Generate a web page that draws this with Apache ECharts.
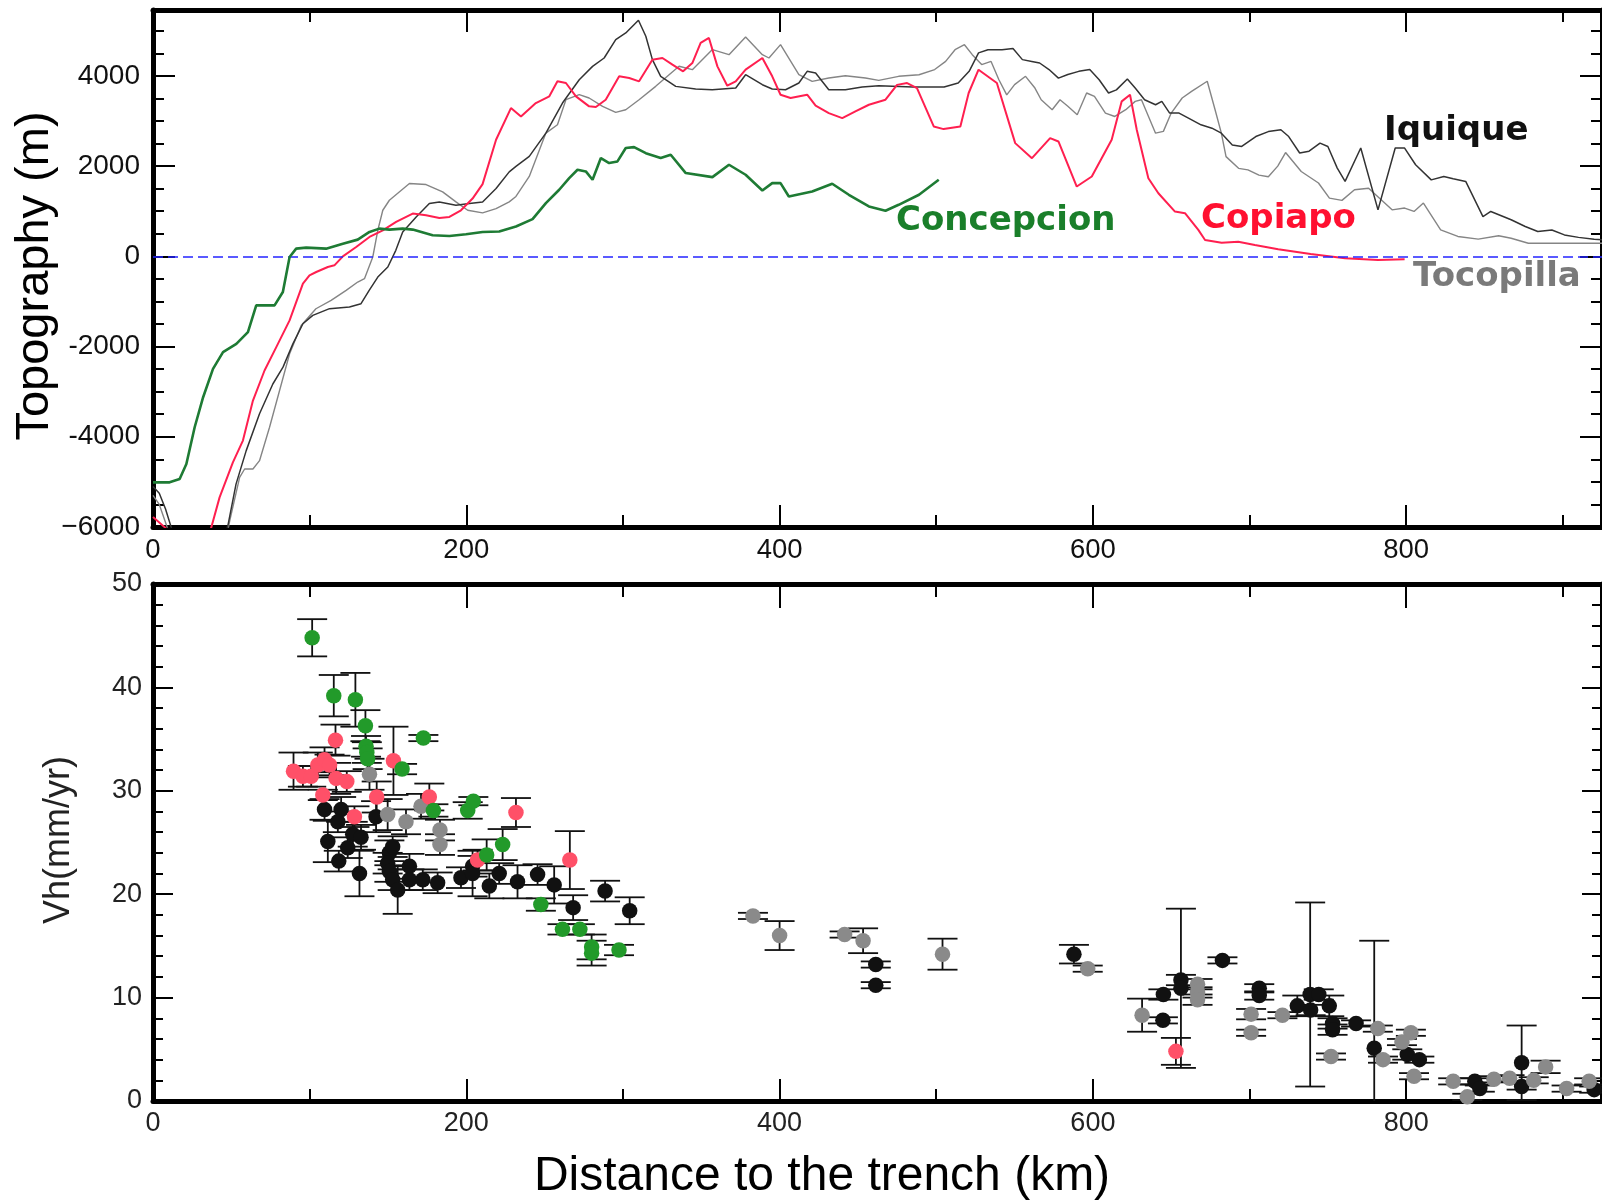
<!DOCTYPE html>
<html><head><meta charset="utf-8">
<script src="https://cdn.jsdelivr.net/npm/echarts@6/dist/echarts.min.js"></script>
<style>html,body{margin:0;padding:0;background:#fff}#c{width:1602px;height:1201px}</style>
</head><body><div id="c"></div>
<script>
// ---------------- DATA ----------------
// Topography profiles: [distance to trench (km), elevation (m)]
const concepcionTopo = [[0,-5010],[10.6,-5010],[17,-4936],[21.3,-4603],[26.6,-3789],[32,-3123],[38.3,-2494],[44.7,-2124],[53.2,-1939],[60.6,-1680],[65.9,-1088],[77.6,-1088],[82.9,-792],[87.2,-15],[91.4,170],[97.8,192],[110.5,170],[121.2,281],[130.7,370],[138.2,540],[144.5,614],[150.9,592],[159.4,614],[165.8,592],[178.5,466],[189.2,451],[199.8,488],[210.4,540],[221,551],[231.7,662],[242.3,825],[250.8,1180],[259.3,1475],[265.7,1734],[271,1919],[276.3,1882],[280.6,1697],[285.9,2178],[291.2,2067],[296.5,2104],[301.8,2400],[307.1,2420],[314.6,2287],[324.1,2178],[330.5,2252],[340.1,1845],[357.1,1756],[367.7,2030],[378.3,1808],[389,1460],[395.3,1623],[400.6,1623],[405.9,1327],[420.8,1438],[433.6,1608],[444.2,1364],[457,1105],[467.6,1009],[476,1142],[489,1365],[501.6,1697]];
const copiapoTopo = [[0,-5780],[8,-6020],[22,-7000],[37.2,-6009],[42.5,-5343],[51,-4566],[57.4,-4085],[63.8,-3197],[71.2,-2531],[78.7,-2013],[87.2,-1421],[95.7,-607],[99.9,-422],[104.2,-348],[111.6,-237],[115.8,-200],[121.2,0],[129.7,207],[138.2,429],[146.7,577],[155.2,762],[165.8,947],[174.3,910],[182.8,851],[189.2,873],[196.6,1021],[204,1280],[210.4,1600],[219,2583],[228.5,3286],[234.9,3101],[244.4,3398],[253,3546],[258.2,3879],[263.6,3842],[270,3546],[278.4,3324],[282.7,3309],[289,3472],[297.6,3990],[304,3953],[310.3,3879],[318.8,4359],[325.2,4396],[331.6,4248],[338.4,4100],[344.3,4285],[349.6,4729],[354.9,4840],[360.3,4211],[366.6,3782],[372,3879],[378.3,4137],[389,4396],[395.3,3990],[400.6,3582],[407,3508],[417.6,3582],[423,3338],[431.4,3175],[440,3064],[448.4,3212],[457,3360],[467.6,3472],[475,3800],[481.4,3841],[487.7,3730],[498.4,2879],[504.7,2820],[515.4,2879],[520.7,3620],[527,4137],[538.7,3841],[550.4,2509],[561.1,2176],[572.7,2620],[578,2546],[589.7,1547],[599.3,1769],[612,2583],[618.4,3435],[623.7,3582],[628,2805],[635.4,1732],[641.8,1399],[652.4,992],[658.8,955],[667.3,585],[671.6,362],[682.2,303],[692.8,325],[703.4,252],[718.3,159],[739,53],[761,-43],[782,-80],[799,-65]];
const iquiqueTopo = [[0,-5100],[4,-5250],[8,-5600],[12,-6050],[28,-7200],[46,-6200],[48,-5935],[53,-5050],[59.5,-4307],[68,-3490],[76.5,-2830],[83,-2457],[89.3,-1940],[95.7,-1495],[102,-1310],[112.7,-1160],[125.4,-1125],[132.8,-1050],[138,-755],[143.5,-460],[149.9,-237],[155,133],[159.4,540],[168,873],[176.4,1170],[182.8,1206],[193.4,1132],[202,1170],[210.4,1206],[219,1502],[227.4,1872],[231.7,1992],[240.2,2214],[250.8,2732],[261.4,3398],[272.1,3915],[280.6,4211],[288,4396],[295.4,4803],[301.8,4951],[309.9,5232],[314.6,4877],[318.8,4359],[324.1,3989],[333.7,3767],[346.4,3708],[357,3693],[372,3730],[378.3,4026],[389,3804],[395.3,3708],[403.8,3693],[412.3,3841],[417.6,4100],[423,4063],[431.4,3693],[442,3693],[452.7,3752],[463.3,3780],[485,3755],[505,3755],[514,3840],[521,4100],[527,4510],[533,4580],[542,4580],[549,4605],[555,4360],[561,4320],[566,4285],[572,4140],[578,3950],[584,4030],[591,4100],[598,4140],[604,3915],[610,3620],[615,3690],[622,3930],[627,3730],[633,3470],[640,3360],[644,3435],[649,3175],[655,3175],[661,3065],[669,2915],[676,2840],[682,2730],[689,2470],[695,2435],[704,2655],[712,2765],[720,2805],[725,2655],[732,2290],[738,2330],[745,2510],[750,2435],[756,1955],[761,1660],[771,2400],[782,1030],[793,2400],[799,2400],[806,2030],[816,1695],[824,1770],[830,1720],[838,1660],[849,880],[854,995],[867,810],[876,660],[884,550],[893,585],[901,475],[910,420],[920,380],[925,370]];
const tocopillaTopo = [[0,-5300],[4,-5500],[8,-5900],[11,-6200],[28,-7200],[47,-6200],[49,-5860],[55.3,-4900],[58.5,-4714],[63.8,-4714],[68,-4530],[74.4,-3790],[80.8,-2975],[87.2,-2160],[94.6,-1532],[104,-1162],[113.7,-977],[123.3,-755],[130.7,-570],[135,-496],[140.3,-15],[143.5,577],[146.7,1021],[150.9,1243],[163.7,1613],[174.3,1591],[184.9,1428],[193.4,1206],[200.9,1021],[210.4,962],[219,1058],[227.4,1206],[231.7,1327],[240.2,1771],[250.8,2732],[258.2,2917],[263.6,3472],[272.1,3583],[278.4,3509],[287,3324],[295.4,3191],[301.8,3250],[310.3,3472],[320.9,3768],[335.8,4212],[344.3,4138],[357.1,4582],[367.7,4470],[378.3,4863],[389,4470],[393.2,4396],[400.6,4692],[412.3,4026],[420.8,3878],[431.4,3952],[442,4004],[454.8,3952],[463.3,3900],[476,3990],[489,4025],[499,4140],[506,4320],[512,4580],[518,4690],[523,4470],[529,4250],[535,4320],[540,3915],[545,3580],[550,3805],[557,3990],[563,3730],[567,3470],[574,3250],[579,3470],[584,3325],[590,3140],[596,3620],[601,3545],[608,3175],[614,3100],[621,3250],[627,3435],[631,3470],[640,2730],[645,2770],[650,3175],[657,3510],[663,3655],[673,3880],[678,3250],[682,2730],[685,2210],[693,1950],[699,1915],[706,1800],[712,1765],[718,2000],[723,2300],[733,1880],[744,1625],[751,1290],[759,1240],[767,1475],[776,1510],[791,1030],[799,1070],[805,995],[811,1180],[822,585],[833,440],[846,380],[859,455],[867,400],[878,290],[888,290],[925,290]];

// Horizontal velocities: [distance (km), Vh (mm/yr), error (mm/yr)]
const concepcionVh = [[101.6,44.8,1.8],[115.4,39.2,2.0],[129.2,38.8,2.6],[135.6,36.3,1.5],[136,34.3,1.0],[136.5,33.7,1.0],[137,33.1,1.0],[172.6,35.1,0.3],[159,32.1,0.5],[179,28.1,0.6],[200.9,28.1,0.8],[204.5,29.0,0.4],[223.2,24.8,1.5],[213,23.8,1.5],[247.6,19.0,0.6],[261.4,16.6,0.5],[272.5,16.6,0.5],[280,14.9,1.2],[280,14.3,1.2],[297.5,14.6,0.5]];
const copiapoVh = [[89.7,31.9,1.8],[95.7,31.4,1.0],[101,31.4,1.0],[105.2,32.5,1.2],[109.5,33.0,1.2],[112.7,32.5,1.0],[116.5,34.9,1.5],[116.9,31.2,1.5],[123.7,30.9,1.0],[108.4,29.6,0.5],[128.6,27.5,1.0],[142.8,29.4,1.5],[153.5,32.9,3.3],[176.4,29.4,1.3],[207.2,23.3,1.0],[231.7,27.9,1.4],[266.1,23.3,2.8],[653,4.8,1.3]];
const tocopillaVh = [[138.2,31.6,1.5],[149.8,27.7,1.5],[161.5,27.0,1.2],[171.1,28.5,1.2],[183.2,26.2,1.0],[183.2,24.8,1.0],[383,17.9,0.3],[400,16.0,1.4],[441.5,16.1,0.3],[453.3,15.5,1.2],[504,14.2,1.5],[596.7,12.8,0.3],[631.4,8.3,1.6],[666.8,11.3,0.5],[666.8,10.5,0.5],[666.8,9.8,0.5],[701,8.4,0.5],[701,6.6,0.3],[721,8.3,0.3],[752,4.3,0.3],[781.9,7.0,0.3],[785.2,4.0,0.3],[803,6.6,0.3],[797.3,5.7,0.3],[805,2.4,0.3],[830,1.9,0.3],[839,0.4,0.3],[856,2.1,0.3],[866,2.2,0.3],[881.4,2.0,0.3],[889,3.3,0.6],[902.4,1.2,0.3],[916.8,1.9,0.3]];
const iquiqueVh = [[109.5,28.2,1.0],[120.1,28.2,1.2],[118,27.0,1.0],[111.6,25.1,2.0],[118.6,23.2,1.0],[124.3,24.5,1.0],[127.5,25.8,1.2],[132.8,25.5,1.2],[131.8,22.0,2.2],[142.4,27.5,1.5],[150.9,24.0,1.2],[153,24.6,1.0],[149.8,23.0,1.0],[150.9,22.2,1.0],[153,21.4,1.0],[156.2,20.4,2.3],[163.7,22.7,1.2],[163.7,21.4,1.0],[172.2,21.4,1.0],[181.7,21.1,1.0],[196.6,21.6,1.0],[204,22.7,1.0],[204,22.0,2.2],[214.7,20.8,1.2],[221,22.0,1.0],[232.7,21.2,1.6],[245.5,21.9,1.0],[256.1,20.9,1.8],[268.2,18.7,1.2],[288.6,20.3,1.0],[304.3,18.4,1.3],[461.4,13.2,0.3],[461.4,11.2,0.3],[587.9,14.2,0.9],[656.2,11.7,0.5],[656.2,10.9,7.7],[645,10.3,0.5],[644.7,7.8,0.3],[682.7,13.6,0.3],[706.2,10.9,0.4],[706.2,10.2,0.4],[730.5,9.2,1.0],[738.7,10.3,8.9],[744.2,10.3,0.5],[739,8.8,0.5],[750.9,9.2,1.0],[753,7.5,0.5],[753,6.9,0.5],[768,7.5,0.3],[779.6,5.1,10.4],[800.7,4.5,0.5],[808.4,4.0,0.3],[843.8,1.9,0.3],[847,1.2,0.3],[873.7,3.7,3.6],[873.7,1.4,0.3],[920,1.1,0.3]];

// Axis tick labels
const topYTickLabels = {'4000':'4000','2000':'2000','0':'0','-2000':'-2000','-4000':'-4000','-6000':'\u22126000'};
const xTickLabels = ['0','200','400','600','800'];
const bottomYTickLabels = ['0','10','20','30','40','50'];

// ---------------- CHART ----------------
const X_MAX = 925, TOPO_MIN = -6000, TOPO_MAX = 5460, VH_MIN = 0, VH_MAX = 50;
const FONT = 'Liberation Sans';
const FRAME_W = 5;

function xAx(grid, pos, interval, len, line, labelCfg) {
  return {
    type:'value', gridIndex:grid, position:pos, min:0, max:X_MAX, interval,
    axisLine:{show:line, onZero:false, lineStyle:{color:'#000', width:FRAME_W}},
    axisTick:{show:true, inside:true, length:len, lineStyle:{color:'#000', width:2}},
    axisLabel: labelCfg ? Object.assign({show:true, showMaxLabel:false, fontFamily:FONT,
      formatter:(v)=>{ const s=String(v); return xTickLabels.indexOf(s) >= 0 ? s : ''; }}, labelCfg) : {show:false},
    splitLine:{show:false}
  };
}
function yAx(grid, pos, min, max, interval, len, line, labelCfg) {
  return {
    type:'value', gridIndex:grid, position:pos, min, max, interval,
    axisLine:{show:line, onZero:false, lineStyle:{color:'#000', width:FRAME_W}},
    axisTick:{show:true, inside:true, length:len, lineStyle:{color:'#000', width:2}},
    axisLabel: labelCfg ? Object.assign({show:true, fontFamily:FONT}, labelCfg) : {show:false},
    splitLine:{show:false}
  };
}

const xAxes = [
  xAx(0,'bottom',200,22,true,{margin:9, fontSize:27.5, color:'#111'}),
  xAx(0,'bottom',100,12,false,null),
  xAx(0,'top',200,22,true,null),
  xAx(0,'top',100,12,false,null),
  xAx(1,'bottom',200,22,true,{margin:9, fontSize:27, color:'#222'}),
  xAx(1,'bottom',100,12,false,null),
  xAx(1,'top',200,24,true,null),
  xAx(1,'top',100,13,false,null)
];
const yAxes = [
  yAx(0,'left',TOPO_MIN,TOPO_MAX,2000,22,true,{margin:13, fontSize:28, color:'#111', showMaxLabel:false,
      formatter:(v)=> topYTickLabels[String(v)] || ''}),
  yAx(0,'left',TOPO_MIN,TOPO_MAX,500,11,false,null),
  yAx(0,'right',TOPO_MIN,TOPO_MAX,2000,22,true,null),
  yAx(0,'right',TOPO_MIN,TOPO_MAX,500,11,false,null),
  yAx(1,'left',VH_MIN,VH_MAX,10,20,true,{margin:11, fontSize:27, color:'#222',
      formatter:(v)=>{ const s=String(v); return bottomYTickLabels.indexOf(s) >= 0 ? s : ''; }}),
  yAx(1,'left',VH_MIN,VH_MAX,2,10,false,null),
  yAx(1,'right',VH_MIN,VH_MAX,10,20,true,null),
  yAx(1,'right',VH_MIN,VH_MAX,2,10,false,null)
];

function topoLine(name, data, color, width, z) {
  return {type:'line', name, data, xAxisIndex:0, yAxisIndex:0, showSymbol:false, symbol:'none',
    clip:true, z, lineStyle:{color, width}, silent:true};
}

function errRender(params, api) {
  const x = api.value(0), y = api.value(1), e = api.value(2);
  const hiV = Math.min(y + e, VH_MAX), loV = Math.max(y - e, VH_MIN);
  const pT = api.coord([x, hiV]), pB = api.coord([x, loV]);
  const half = 15;
  const st = {stroke:'#111', lineWidth:1.8};
  const ch = [{type:'line', shape:{x1:pT[0],y1:pT[1],x2:pB[0],y2:pB[1]}, style:st}];
  if (y + e <= VH_MAX) ch.push({type:'line', shape:{x1:pT[0]-half,y1:pT[1],x2:pT[0]+half,y2:pT[1]}, style:st});
  if (y - e >= VH_MIN) ch.push({type:'line', shape:{x1:pB[0]-half,y1:pB[1],x2:pB[0]+half,y2:pB[1]}, style:st});
  return {type:'group', children:ch};
}
function errSeries(data, z) {
  return {type:'custom', data, xAxisIndex:4, yAxisIndex:4, renderItem:errRender, z, silent:true,
    encode:{x:0, y:1}, dimensions:['x','y','e']};
}
function pts(data, color, z) {
  return {type:'scatter', data:data.map(d=>[d[0], d[1]]), xAxisIndex:4, yAxisIndex:4, symbol:'circle',
    symbolSize:15.5, itemStyle:{color, opacity:1}, z, silent:true};
}

const series = [
  topoLine('Tocopilla', tocopillaTopo, '#858585', 1.4, 2),
  topoLine('Iquique', iquiqueTopo, '#333333', 1.5, 3),
  topoLine('Copiapo', copiapoTopo, '#ff1f4f', 2.0, 4),
  Object.assign(topoLine('Concepcion', concepcionTopo, '#1e7b34', 2.6, 5), {
    markLine:{silent:true, symbol:['none','none'], label:{show:false},
      lineStyle:{color:'#2424ff', type:[10,5], width:1.6}, data:[{yAxis:0}]}
  }),
  errSeries(iquiqueVh, 2), errSeries(tocopillaVh, 2), errSeries(copiapoVh, 2), errSeries(concepcionVh, 2),
  pts(iquiqueVh, '#111111', 3),
  pts(tocopillaVh, '#8a8a8a', 4),
  pts(copiapoVh, '#ff5068', 5),
  pts(concepcionVh, '#229a2a', 6)
];

const labelFont = 'bold 34px "DejaVu Sans"';
const graphic = [
  {type:'text', x:35, y:276, rotation:Math.PI/2, style:{text:'Topography (m)', font:'47px "Liberation Sans"', fill:'#000', align:'center', verticalAlign:'middle', textAlign:'center', textVerticalAlign:'middle'}},
  {type:'text', x:59, y:840, rotation:Math.PI/2, style:{text:'Vh(mm/yr)', font:'36px "Liberation Sans"', fill:'#222', align:'center', verticalAlign:'middle', textAlign:'center', textVerticalAlign:'middle'}},
  {type:'text', x:822, y:1177, style:{text:'Distance to the trench (km)', font:'48px "Liberation Sans"', fill:'#000', align:'center', verticalAlign:'middle', textAlign:'center', textVerticalAlign:'middle'}},
  {type:'text', x:896, y:221, style:{text:'Concepcion', font:labelFont, fill:'#1a7f2a', align:'left', verticalAlign:'middle', textAlign:'left', textVerticalAlign:'middle'}},
  {type:'text', x:1201, y:219, style:{text:'Copiapo', font:labelFont, fill:'#ff1030', align:'left', verticalAlign:'middle', textAlign:'left', textVerticalAlign:'middle'}},
  {type:'text', x:1384, y:131, style:{text:'Iquique', font:labelFont, fill:'#111', align:'left', verticalAlign:'middle', textAlign:'left', textVerticalAlign:'middle'}},
  {type:'text', x:1413, y:277, style:{text:'Tocopilla', font:labelFont, fill:'#7a7a7a', align:'left', verticalAlign:'middle', textAlign:'left', textVerticalAlign:'middle'}}
];

const chart = echarts.init(document.getElementById('c'), null, {renderer:'canvas', width:1602, height:1201});
chart.setOption({
  animation:false,
  backgroundColor:'#ffffff',
  grid:[
    {left:153, top:10, width:1451, height:517, containLabel:false},
    {left:153, top:584, width:1451, height:517, containLabel:false}
  ],
  xAxis:xAxes,
  yAxis:yAxes,
  series,
  graphic
});
</script></body></html>
